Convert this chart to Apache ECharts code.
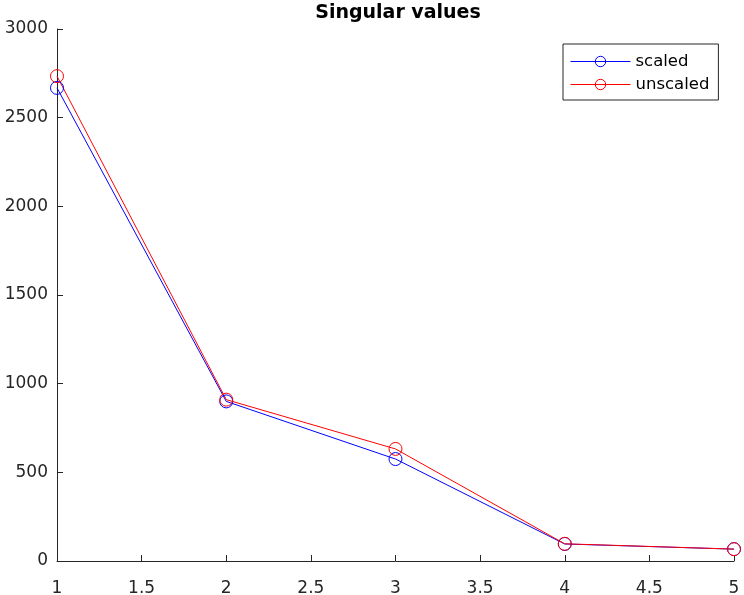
<!DOCTYPE html>
<html>
<head>
<meta charset="utf-8">
<script src="https://cdn.jsdelivr.net/npm/echarts@6/dist/echarts.min.js"></script>
<style>
  html, body { margin: 0; padding: 0; background: #fff; }
  #chart { width: 744px; height: 595px; }
</style>
</head>
<body>
<div id="chart"></div>
<script>
// 数据
var xIndex = [1, 2, 3, 4, 5];
var scaledValues = [2668, 900, 575, 96, 67];
var unscaledValues = [2734, 910, 632, 97, 67];

var chart = echarts.init(document.getElementById('chart'));

function pairs(vals) {
    return vals.map(function (v, i) { return [xIndex[i], v]; });
}

var axisColor = '#262626';
var font = 'DejaVu Sans, sans-serif';

function lineSeries(name, vals, color) {
    return {
        name: name,
        type: 'line',
        data: pairs(vals),
        symbol: 'circle',
        symbolSize: 13,
        lineStyle: { color: color, width: 1 },
        itemStyle: { color: 'rgba(0,0,0,0)', borderColor: color, borderWidth: 1 },
        emphasis: { disabled: true }
    };
}

var option = {
    animation: false,
    title: {
        text: 'Singular values',
        left: 393,
        top: -1,
        textAlign: 'center',
        textStyle: { fontFamily: font, fontSize: 19, fontWeight: 'bold', color: '#000' }
    },
    legend: {
        orient: 'vertical',
        left: 563,
        top: 44,
        itemWidth: 60,
        itemHeight: 13,
        itemGap: 6,
        padding: [9, 9, 7, 7],
        borderColor: axisColor,
        borderWidth: 1,
        backgroundColor: '#fff',
        lineStyle: { width: 1 },
        itemStyle: { borderWidth: 1 },
        textStyle: { fontFamily: font, fontSize: 16.5, color: '#000' },
        data: ['scaled', 'unscaled']
    },
    grid: { left: 57, right: 10, top: 29, bottom: 34, outerBoundsMode: 'none' },
    xAxis: {
        type: 'value',
        min: 1,
        max: 5,
        interval: 0.5,
        axisLine: { lineStyle: { color: axisColor, width: 1 } },
        axisTick: { inside: true, length: 6, lineStyle: { color: axisColor } },
        axisLabel: { fontFamily: font, fontSize: 17, color: axisColor, margin: 19 },
        splitLine: { show: false }
    },
    yAxis: {
        type: 'value',
        min: 0,
        max: 3000,
        interval: 500,
        axisLine: { show: true, lineStyle: { color: axisColor, width: 1 } },
        axisTick: { show: true, inside: true, length: 6, lineStyle: { color: axisColor } },
        axisLabel: {
            fontFamily: font, fontSize: 17, color: axisColor, margin: 9,
            formatter: function (v) { return String(v); }
        },
        splitLine: { show: false }
    },
    series: [
        lineSeries('scaled', scaledValues, '#0000ff'),
        lineSeries('unscaled', unscaledValues, '#ff0000')
    ]
};

chart.setOption(option);
</script>
</body>
</html>
